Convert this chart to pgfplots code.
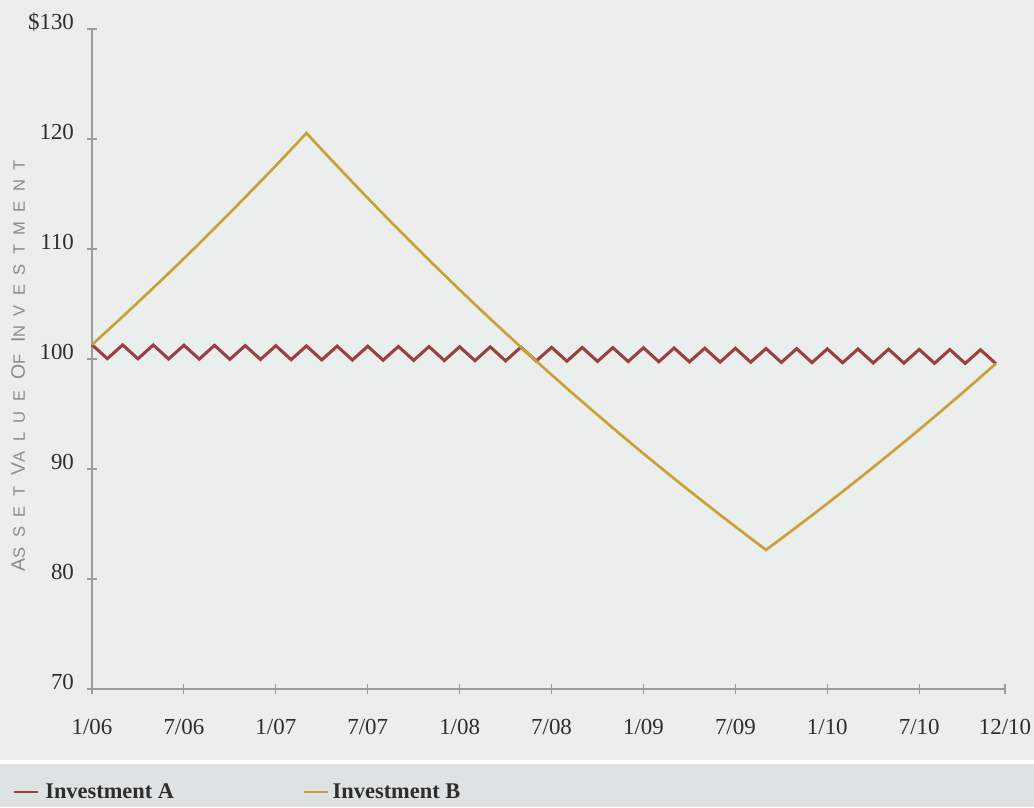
\documentclass[border=0pt]{standalone}
\usepackage{pgfplots}
\pgfplotsset{compat=1.18}
\usepackage{fontspec}
\setmainfont{Liberation Serif}
\newfontfamily\labfont[LetterSpace=57]{Liberation Sans}
\definecolor{bgcol}{HTML}{EAEEED}
\definecolor{bandcol}{HTML}{DCE3E2}
\definecolor{axcol}{HTML}{9A9C9C}
\definecolor{txtcol}{HTML}{2E2E2E}
\definecolor{ylabcol}{HTML}{888C8C}
\definecolor{colA}{HTML}{9B4040}
\definecolor{colB}{HTML}{CDA037}
\newcommand{\bigc}[1]{{\fontsize{14.6}{16}\selectfont #1}}
\newcommand{\smc}[1]{{\fontsize{12.4}{14}\selectfont #1}}
\begin{document}
\begin{tikzpicture}
\path[use as bounding box] (-69pt,-88.5pt) rectangle (706.5pt,516.75pt);
\fill[bgcol] (-69pt,-53.25pt) rectangle (706.5pt,516.75pt);
\fill[white] (-69pt,-53.25pt) rectangle (706.5pt,-56.25pt);
\fill[bandcol] (-69pt,-56.25pt) rectangle (706.5pt,-88.5pt);
\begin{axis}[
  at={(0,0)}, anchor=south west,
  scale only axis, width=684.75pt, height=495pt,
  xmin=0, xmax=59.6, ymin=70, ymax=130,
  axis x line*=bottom, axis y line*=left,
  axis line style={-, draw=axcol, line width=1.1pt},
  xtick={0,6,12,18,24,30,36,42,48,54,59.6},
  xticklabels={1/06,7/06,1/07,7/07,1/08,7/08,1/09,7/09,1/10,7/10,12/10},
  ytick={70,80,90,100,110,120,130},
  yticklabels={70,80,90,100,110,120,\$130},
  tick align=center, major tick length=8pt,
  tick style={draw=axcol, line width=0.8pt},
  ticklabel style={font=\fontsize{17.2}{20}\selectfont, text=txtcol},
  xticklabel style={yshift=-15pt},
  yticklabel style={xshift=-6pt, yshift=5pt},
  ylabel={{\labfont\color{ylabcol}\bigc{A}\smc{SSET} \bigc{V}\smc{ALUE} \bigc{O}\smc{F} \bigc{I}\smc{NVESTMENT}}},
  ylabel style={at={(axis description cs:-0.081,0.49)}, anchor=center},
  legend columns=2,
  legend style={at={(axis description cs:-0.0865,-0.156)}, anchor=west, draw=none, fill=none, inner sep=0pt,
    font=\fontsize{16.8}{19}\selectfont\bfseries, text=txtcol,
    /tikz/every even column/.append style={column sep=94.5pt}},
  legend image code/.code={\draw[#1, line width=1.5pt] (0pt,0pt) -- (18pt,0pt);},
  clip=false,
]
\addplot[colA, line width=2.3pt, line join=miter] coordinates {
(0,101.30)(1,100.03)(2,101.28)(3,100.02)(4,101.27)(5,100.00)(6,101.25)(7,99.99)(8,101.24)(9,99.97)(10,101.22)(11,99.96)(12,101.21)(13,99.94)(14,101.19)(15,99.92)(16,101.17)(17,99.91)(18,101.16)(19,99.89)(20,101.14)(21,99.88)(22,101.13)(23,99.86)(24,101.11)(25,99.85)(26,101.10)(27,99.83)(28,101.08)(29,99.82)(30,101.06)(31,99.80)(32,101.05)(33,99.78)(34,101.03)(35,99.77)(36,101.02)(37,99.75)(38,101.00)(39,99.74)(40,100.98)(41,99.72)(42,100.97)(43,99.71)(44,100.95)(45,99.69)(46,100.94)(47,99.67)(48,100.92)(49,99.66)(50,100.91)(51,99.64)(52,100.89)(53,99.63)(54,100.87)(55,99.61)(56,100.86)(57,99.60)(58,100.84)(59,99.58)
};
\addlegendentry{\hspace{2.5pt}Investment A}
\addplot[colB, line width=2pt, line join=miter] coordinates {
(0,101.30)(1,102.57)(2,103.85)(3,105.15)(4,106.46)(5,107.79)(6,109.14)(7,110.50)(8,111.88)(9,113.28)(10,114.70)(11,116.13)(12,117.58)(13,119.05)(14,120.54)
(15,119.03)(16,117.55)(17,116.08)(18,114.63)(19,113.19)(20,111.78)(21,110.38)(22,109.00)(23,107.64)(24,106.29)(25,104.96)(26,103.65)(27,102.36)(28,101.08)(29,99.81)(30,98.57)(31,97.33)(32,96.12)(33,94.92)(34,93.73)(35,92.56)(36,91.40)(37,90.26)(38,89.13)(39,88.02)(40,86.92)(41,85.83)(42,84.76)(43,83.70)(44,82.65)
(45,83.68)(46,84.73)(47,85.79)(48,86.86)(49,87.95)(50,89.05)(51,90.16)(52,91.29)(53,92.43)(54,93.58)(55,94.75)(56,95.94)(57,97.13)(58,98.35)(59,99.58)
};
\addlegendentry{\hspace{1pt}Investment B}
\end{axis}
\end{tikzpicture}
\end{document}
